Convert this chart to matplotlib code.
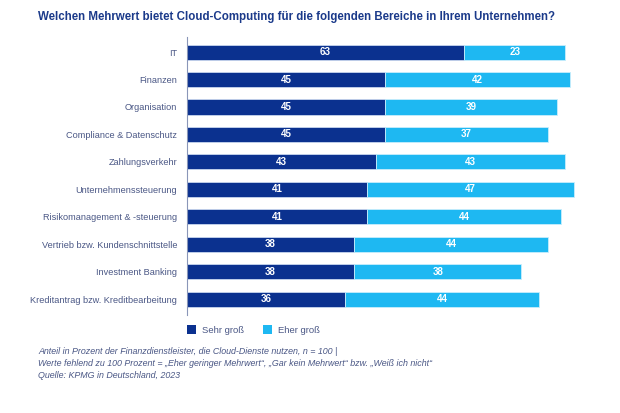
import matplotlib
matplotlib.use("Agg")
import matplotlib.pyplot as plt
from matplotlib.patches import Patch
import numpy as np

categories = ["IT", "Finanzen", "Organisation", "Compliance & Datenschutz",
              "Zahlungsverkehr", "Unternehmenssteuerung", "Risikomanagement & -steuerung",
              "Vertrieb bzw. Kundenschnittstelle", "Investment Banking",
              "Kreditantrag bzw. Kreditbearbeitung"]
sehr_gross = [63, 45, 45, 45, 43, 41, 41, 38, 38, 36]
eher_gross = [23, 42, 39, 37, 43, 47, 44, 44, 38, 44]
series_names = ["Sehr groß", "Eher groß"]

title = "Welchen Mehrwert bietet Cloud-Computing für die folgenden Bereiche in Ihrem Unternehmen?"
footnote = ["Anteil in Prozent der Finanzdienstleister, die Cloud-Dienste nutzen, n = 100 |",
            "Werte fehlend zu 100 Prozent = \u201eEher geringer Mehrwert\u201c, \u201eGar kein Mehrwert\u201c bzw. \u201eWeiß ich nicht\u201c",
            "Quelle: KPMG in Deutschland, 2023"]

DARK = "#0B318F"
LIGHT = "#1EB8F2"
TXT = "#4A5785"
FONT = ["Liberation Sans", "DejaVu Sans"]
plt.rcParams['font.family'] = FONT

fig = plt.figure(figsize=(6.2, 4.13), dpi=100)
ax = fig.add_axes([187/620, 1-315/413, (583-187)/620, (315-37)/413])

y = np.arange(len(categories))
h = 0.55
ax.barh(y, sehr_gross, height=h, color=DARK, edgecolor="#c8d6ee", linewidth=0.6)
ax.barh(y, eher_gross, left=sehr_gross, height=h, color=LIGHT, edgecolor="#c8eefc", linewidth=0.6)
for i, (a, b) in enumerate(zip(sehr_gross, eher_gross)):
    ax.text(a/2, i, str(a), ha="center", va="center", color="white", fontsize=7, fontweight="bold")
    ax.text(a + b/2, i, str(b), ha="center", va="center", color="white", fontsize=7, fontweight="bold")

ax.set_xlim(0, 90)
ax.set_ylim(9.58, -0.55)
ax.set_yticks(y)
ax.set_yticklabels(categories, fontsize=6.6, color=TXT)
ax.tick_params(axis="y", length=0, pad=7)
ax.set_xticks([])
for s in ["top", "right", "bottom"]:
    ax.spines[s].set_visible(False)
ax.spines["left"].set_color("#8a96b8")
ax.spines["left"].set_linewidth(0.8)

fig.text(38/620, 1-17/413, title, fontsize=8.3, fontweight="bold", color="#1B3A8A",
         ha="left", va="center")

handles = [Patch(facecolor=DARK, label=series_names[0]), Patch(facecolor=LIGHT, label=series_names[1])]
leg = fig.legend(handles=handles, loc="center left", bbox_to_anchor=(178/620, 1-330/413), ncol=2,
                 frameon=False, fontsize=6.8, handlelength=1.0, handleheight=1.0,
                 columnspacing=2.0, handletextpad=0.6)
for t in leg.get_texts():
    t.set_color(TXT)

for k, line in enumerate(footnote):
    fig.text(38/620, 1-(352+12*k)/413, line, fontsize=6.4, style="italic", color=TXT,
             ha="left", va="center")

fig.savefig("out.png", dpi=100, facecolor="white")
